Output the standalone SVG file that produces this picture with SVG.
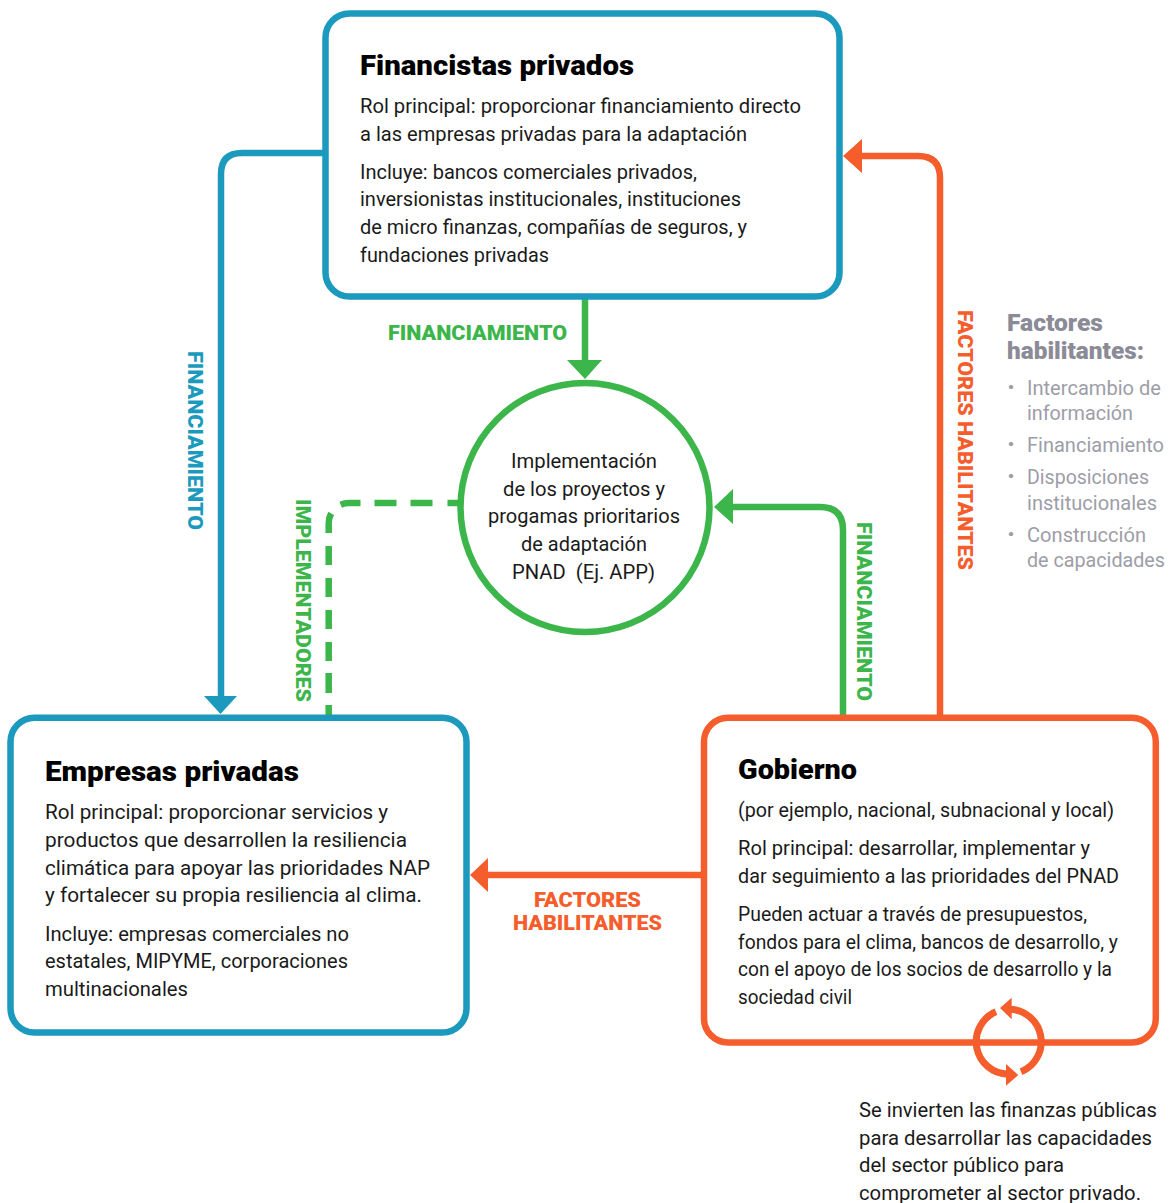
<svg xmlns="http://www.w3.org/2000/svg" width="1169" height="1203" viewBox="0 0 1169 1203">
<style>
text{font-family:Roboto,"Noto Sans",sans-serif;font-size:19.6px;fill:#1a1a1a}
.t{font-size:27px;font-weight:900;fill:#000}
.lab{font-size:20.5px;font-weight:900}
.box{fill:#fff;stroke-width:6.5}
.line{fill:none;stroke-width:6.5}
.b{stroke:#1b9abd}.g{stroke:#3cb54a}.o{stroke:#f55d2c}
.gr{fill:#9d9da8}
.gh{fill:#8b8b97;font-size:23px;font-weight:900}
.dot{fill:#9d9da8;font-size:27px;font-weight:700}
</style>
<rect width="1169" height="1203" fill="#fff"/>
<g id="connectors">
<path class="line b" d="M326 153H242Q221 153 221 174V700"/>
<path d="M204 696H237L220.500 714Z" fill="#1b9abd"/>
<path class="line g" d="M585 297V362"/>
<path d="M567 360H602L585 379Z" fill="#3cb54a"/>
<path class="line g" d="M328.700 716V523A20 20 0 0 1 348.700 503H460" stroke-dasharray="11 12 20 12 19 13 19 13 19 13 19 13 20 13 20 14 22 14 22 15 20 40"/>
<path class="line g" d="M843 716V530Q843 507 820 507H730"/>
<path d="M733 489V524L714 507Z" fill="#3cb54a"/>
<path class="line o" d="M940 716V178Q940 156 918 156H860"/>
<path d="M862 139V173L843 156Z" fill="#f55d2c"/>
<path class="line o" d="M704 875H486"/>
<path d="M488 858V892L470 875Z" fill="#f55d2c"/>
</g>
<g id="financistas">
<rect class="box b" x="325.500" y="13.500" width="514" height="283" rx="24"/>
<text class="t" x="360" y="75" textLength="274" lengthAdjust="spacingAndGlyphs">Financistas privados</text>
<text x="360" y="113" textLength="441" lengthAdjust="spacingAndGlyphs">Rol principal: proporcionar financiamiento directo</text>
<text x="360" y="141" textLength="387" lengthAdjust="spacingAndGlyphs">a las empresas privadas para la adaptación</text>
<text x="360" y="179" textLength="337" lengthAdjust="spacingAndGlyphs">Incluye: bancos comerciales privados,</text>
<text x="360" y="206" textLength="381" lengthAdjust="spacingAndGlyphs">inversionistas institucionales, instituciones</text>
<text x="360" y="234" textLength="387" lengthAdjust="spacingAndGlyphs">de micro finanzas, compañías de seguros, y</text>
<text x="360" y="262" textLength="189" lengthAdjust="spacingAndGlyphs">fundaciones privadas</text>
</g>
<g id="implementacion">
<circle cx="585" cy="507.500" r="124.500" fill="#fff" stroke="#3cb54a" stroke-width="6.500"/>
<text x="511" y="468" textLength="146" lengthAdjust="spacingAndGlyphs">Implementación</text>
<text x="503" y="496" textLength="162" lengthAdjust="spacingAndGlyphs">de los proyectos y</text>
<text x="488" y="523" textLength="192" lengthAdjust="spacingAndGlyphs">progamas prioritarios</text>
<text x="521" y="551" textLength="126" lengthAdjust="spacingAndGlyphs">de adaptación</text>
<text x="512" y="579" textLength="143" lengthAdjust="spacingAndGlyphs" xml:space="preserve">PNAD  (Ej. APP)</text>
</g>
<g id="empresas">
<rect class="box b" x="10.500" y="717.700" width="456" height="314.800" rx="24"/>
<text class="t" x="45" y="781" textLength="254" lengthAdjust="spacingAndGlyphs">Empresas privadas</text>
<text x="45" y="819" textLength="343" lengthAdjust="spacingAndGlyphs">Rol principal: proporcionar servicios y</text>
<text x="45" y="847" textLength="362" lengthAdjust="spacingAndGlyphs">productos que desarrollen la resiliencia</text>
<text x="45" y="875" textLength="385" lengthAdjust="spacingAndGlyphs">climática para apoyar las prioridades NAP</text>
<text x="45" y="902" textLength="377" lengthAdjust="spacingAndGlyphs">y fortalecer su propia resiliencia al clima.</text>
<text x="45" y="941" textLength="304" lengthAdjust="spacingAndGlyphs">Incluye: empresas comerciales no</text>
<text x="45" y="968" textLength="303" lengthAdjust="spacingAndGlyphs">estatales, MIPYME, corporaciones</text>
<text x="45" y="996" textLength="143" lengthAdjust="spacingAndGlyphs">multinacionales</text>
</g>
<g id="gobierno">
<rect class="box o" x="704" y="717.700" width="451.800" height="324.700" rx="24"/>
<text class="t" x="738" y="779" textLength="119" lengthAdjust="spacingAndGlyphs">Gobierno</text>
<text x="738" y="817" textLength="376" lengthAdjust="spacingAndGlyphs">(por ejemplo, nacional, subnacional y local)</text>
<text x="738" y="855" textLength="352" lengthAdjust="spacingAndGlyphs">Rol principal: desarrollar, implementar y</text>
<text x="738" y="883" textLength="381" lengthAdjust="spacingAndGlyphs">dar seguimiento a las prioridades del PNAD</text>
<text x="738" y="921" textLength="349" lengthAdjust="spacingAndGlyphs">Pueden actuar a través de presupuestos,</text>
<text x="738" y="949" textLength="380" lengthAdjust="spacingAndGlyphs">fondos para el clima, bancos de desarrollo, y</text>
<text x="738" y="976" textLength="374" lengthAdjust="spacingAndGlyphs">con el apoyo de los socios de desarrollo y la</text>
<text x="738" y="1004" textLength="114" lengthAdjust="spacingAndGlyphs">sociedad civil</text>
</g>
<g id="ciclo">
<path class="line o" d="M996 1011.800A32.500 32.500 0 0 0 1008 1074.200" style="stroke-width:7"/>
<path class="line o" d="M1021 1071.800A32.500 32.500 0 0 0 1008.800 1009.200" style="stroke-width:7"/>
<path d="M1011.700 997.700L1000 1008L1011.700 1019.300Z" fill="#f55d2c"/>
<path d="M1006 1064L1018.300 1075L1006 1085.700Z" fill="#f55d2c"/>
</g>
<g id="etiquetas">
<text class="lab" style="fill:#3cb54a" x="388" y="340" textLength="179" lengthAdjust="spacingAndGlyphs">FINANCIAMIENTO</text>
<text class="lab" style="fill:#1b9abd" transform="translate(188 351) rotate(90)" textLength="179" lengthAdjust="spacingAndGlyphs">FINANCIAMIENTO</text>
<text class="lab" style="fill:#3cb54a" transform="translate(296 499) rotate(90)" textLength="203" lengthAdjust="spacingAndGlyphs">IMPLEMENTADORES</text>
<text class="lab" style="fill:#3cb54a" transform="translate(857 522) rotate(90)" textLength="179" lengthAdjust="spacingAndGlyphs">FINANCIAMIENTO</text>
<text class="lab" style="fill:#f55d2c" transform="translate(958 310) rotate(90)" textLength="260" lengthAdjust="spacingAndGlyphs">FACTORES HABILITANTES</text>
<text class="lab" style="fill:#f55d2c" x="534" y="907" textLength="107" lengthAdjust="spacingAndGlyphs">FACTORES</text>
<text class="lab" style="fill:#f55d2c" x="513" y="930" textLength="149" lengthAdjust="spacingAndGlyphs">HABILITANTES</text>
</g>
<g id="factores">
<text class="gh" x="1007" y="331" textLength="96" lengthAdjust="spacingAndGlyphs">Factores</text>
<text class="gh" x="1007" y="359" textLength="137" lengthAdjust="spacingAndGlyphs">habilitantes:</text>
<text class="dot" x="1007" y="396">·</text><text class="gr" x="1027" y="395" textLength="134" lengthAdjust="spacingAndGlyphs">Intercambio de</text>
<text class="gr" x="1027" y="420" textLength="106" lengthAdjust="spacingAndGlyphs">información</text>
<text class="dot" x="1007" y="453">·</text><text class="gr" x="1027" y="452" textLength="137" lengthAdjust="spacingAndGlyphs">Financiamiento</text>
<text class="dot" x="1007" y="485">·</text><text class="gr" x="1027" y="484" textLength="122" lengthAdjust="spacingAndGlyphs">Disposiciones</text>
<text class="gr" x="1027" y="510" textLength="130" lengthAdjust="spacingAndGlyphs">institucionales</text>
<text class="dot" x="1007" y="543">·</text><text class="gr" x="1027" y="542" textLength="119" lengthAdjust="spacingAndGlyphs">Construcción</text>
<text class="gr" x="1027" y="567" textLength="138" lengthAdjust="spacingAndGlyphs">de capacidades</text>
</g>
<g id="nota">
<text x="859" y="1117" textLength="298" lengthAdjust="spacingAndGlyphs">Se invierten las finanzas públicas</text>
<text x="859" y="1145" textLength="293" lengthAdjust="spacingAndGlyphs">para desarrollar las capacidades</text>
<text x="859" y="1172" textLength="205" lengthAdjust="spacingAndGlyphs">del sector público para</text>
<text x="859" y="1200" textLength="282" lengthAdjust="spacingAndGlyphs">comprometer al sector privado.</text>
</g>
</svg>
